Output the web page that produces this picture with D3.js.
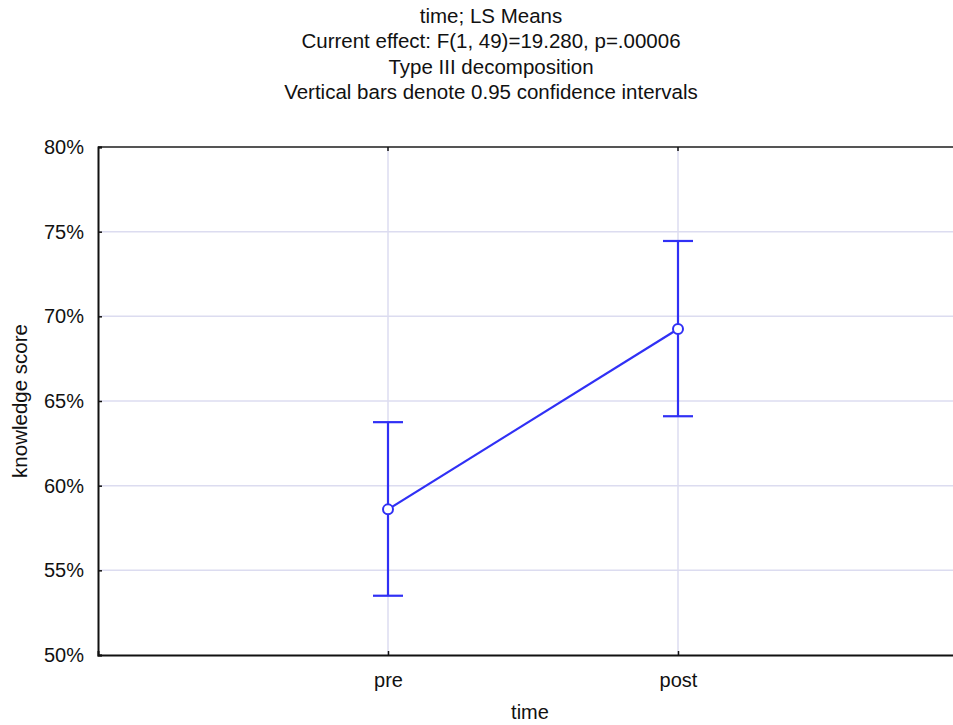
<!DOCTYPE html>
<html>
<head>
<meta charset="utf-8">
<script src="https://d3js.org/d3.v7.min.js"></script>
<style>
  body { margin: 0; background: #fff; }
  svg { font-family: "Liberation Sans", Arial, sans-serif; }
</style>
</head>
<body>
<div id="chart"></div>
<script>
// LS means with 0.95 confidence intervals
const categories = ["pre", "post"];
const means = [58.6, 69.25];
const ciLower = [53.5, 64.1];
const ciUpper = [63.75, 74.45];
const yTicks = [50, 55, 60, 65, 70, 75, 80];
const titleLines = [
    "time; LS Means",
    "Current effect: F(1, 49)=19.280, p=.00006",
    "Type III decomposition",
    "Vertical bars denote 0.95 confidence intervals"
];

const W = 953, H = 725;
const margin = { top: 147, right: -15, bottom: 70, left: 98 };
const width = W - margin.left - margin.right;
const height = H - margin.top - margin.bottom;

const blue = "#3030f5";

const svg = d3.select("#chart")
    .append("svg")
    .attr("width", W)
    .attr("height", H);

// titles
svg.append("g")
    .selectAll("text")
    .data(titleLines)
    .enter()
    .append("text")
    .attr("x", 491)
    .attr("y", (d, i) => 23 + i * 25.3)
    .attr("text-anchor", "middle")
    .style("font-size", "20.5px")
    .attr("fill", "#111")
    .text(d => d);

const g = svg.append("g")
    .attr("transform", "translate(" + margin.left + "," + margin.top + ")");

const xScale = d3.scalePoint()
    .domain(categories)
    .range([0, width])
    .padding(1);

const yScale = d3.scaleLinear()
    .domain([50, 80])
    .range([height, 0]);

// grid lines
g.append("g")
    .selectAll("line")
    .data(yTicks.slice(1, -1))
    .enter()
    .append("line")
    .attr("x1", 0)
    .attr("x2", width)
    .attr("y1", d => yScale(d))
    .attr("y2", d => yScale(d))
    .attr("stroke", "#dcdcf0")
    .attr("stroke-width", 1.5);

g.append("g")
    .selectAll("line")
    .data(categories)
    .enter()
    .append("line")
    .attr("x1", d => xScale(d))
    .attr("x2", d => xScale(d))
    .attr("y1", 0)
    .attr("y2", height)
    .attr("stroke", "#dcdcf0")
    .attr("stroke-width", 1.5);

// top border
g.append("line")
    .attr("x1", 0).attr("x2", width)
    .attr("y1", 0).attr("y2", 0)
    .attr("stroke", "#555")
    .attr("stroke-width", 2);

// axes
const yAxis = g.append("g")
    .call(d3.axisLeft(yScale)
        .tickValues(yTicks)
        .tickSize(-4)
        .tickPadding(14)
        .tickFormat(d => d + "%"));
yAxis.select(".domain").attr("stroke", "#111").attr("stroke-width", 2);
yAxis.selectAll(".tick line").attr("stroke", "#111").attr("stroke-width", 1.5);
yAxis.selectAll("text").style("font-size", "20px").attr("fill", "#111");

const xAxis = g.append("g")
    .attr("transform", "translate(0," + height + ")")
    .call(d3.axisBottom(xScale).tickSize(-4).tickPadding(18));
xAxis.select(".domain").attr("stroke", "#111").attr("stroke-width", 2);
xAxis.selectAll(".tick line").attr("stroke", "#111").attr("stroke-width", 1.5);
xAxis.selectAll("text").style("font-size", "20px").attr("fill", "#111");

// top ticks at categories
g.append("g")
    .selectAll("line")
    .data(categories)
    .enter()
    .append("line")
    .attr("x1", d => xScale(d))
    .attr("x2", d => xScale(d))
    .attr("y1", 0)
    .attr("y2", 4)
    .attr("stroke", "#111")
    .attr("stroke-width", 1.5);

// axis titles
svg.append("text")
    .attr("x", 530)
    .attr("y", 719)
    .attr("text-anchor", "middle")
    .style("font-size", "20px")
    .attr("fill", "#111")
    .text("time");

svg.append("text")
    .attr("transform", "translate(27," + (margin.top + height / 2) + ") rotate(-90)")
    .attr("text-anchor", "middle")
    .style("font-size", "20.5px")
    .attr("fill", "#111")
    .text("knowledge score");

// error bars
const capHalf = 15;
const bars = g.append("g")
    .selectAll("g")
    .data(categories)
    .enter()
    .append("g");

bars.append("line")
    .attr("x1", d => xScale(d))
    .attr("x2", d => xScale(d))
    .attr("y1", (d, i) => yScale(ciLower[i]))
    .attr("y2", (d, i) => yScale(ciUpper[i]))
    .attr("stroke", blue)
    .attr("stroke-width", 2.2);

bars.append("line")
    .attr("x1", d => xScale(d) - capHalf)
    .attr("x2", d => xScale(d) + capHalf)
    .attr("y1", (d, i) => yScale(ciUpper[i]))
    .attr("y2", (d, i) => yScale(ciUpper[i]))
    .attr("stroke", blue)
    .attr("stroke-width", 2.2);

bars.append("line")
    .attr("x1", d => xScale(d) - capHalf)
    .attr("x2", d => xScale(d) + capHalf)
    .attr("y1", (d, i) => yScale(ciLower[i]))
    .attr("y2", (d, i) => yScale(ciLower[i]))
    .attr("stroke", blue)
    .attr("stroke-width", 2.2);

// mean line
g.append("path")
    .datum(categories)
    .attr("d", d3.line()
        .x(d => xScale(d))
        .y((d, i) => yScale(means[i])))
    .attr("fill", "none")
    .attr("stroke", blue)
    .attr("stroke-width", 2.2);

g.append("g")
    .selectAll("circle")
    .data(categories)
    .enter()
    .append("circle")
    .attr("cx", d => xScale(d))
    .attr("cy", (d, i) => yScale(means[i]))
    .attr("r", 5)
    .attr("fill", "#fff")
    .attr("stroke", blue)
    .attr("stroke-width", 2);
</script>
</body>
</html>
